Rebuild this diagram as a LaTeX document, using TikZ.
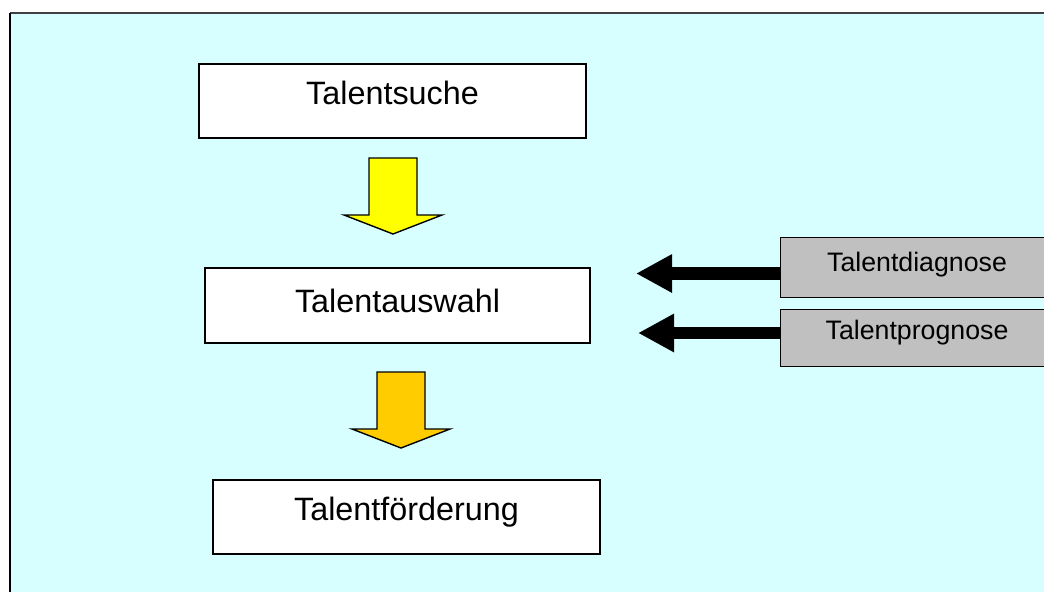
\documentclass[tikz,border=0pt]{standalone}
\usepackage{fontspec}
\setmainfont{Liberation Sans}
\usetikzlibrary{arrows.meta}

\definecolor{panelcyan}{RGB}{216,255,255}
\definecolor{sunyellow}{RGB}{255,255,0}
\definecolor{goldorange}{RGB}{255,204,0}
\definecolor{methodgray}{RGB}{192,192,192}

\begin{document}
\begin{tikzpicture}[x=0.025cm, y=-0.025cm,
  stage/.style={draw, line width=1.2pt, fill=white, minimum width=9.675cm, minimum height=1.85cm, inner sep=0pt,
    font=\fontsize{23}{27}\selectfont, text height=0.73em, text depth=0.26em},
  method/.style={draw, line width=0.7pt, fill=methodgray, minimum width=6.8cm, inner sep=0pt,
    font=\fontsize{19}{23}\selectfont, text height=0.73em},
  blockarrow/.style={draw, line width=1pt, line join=miter},
  feed/.style={line width=0.32cm, -{Triangle[length=0.9cm, width=0.9cm]}}]
\clip (0,0) rectangle (1044,592);
\fill[panelcyan] (10,13) rectangle (1044,592);
\draw[black!75, line width=1.2pt] (10,13) -- (1044,13);
\draw[line width=0.9pt] (10,13) -- (10,592);

\node[stage] (suche) at (392.5,101) {Talentsuche};
\node[stage, minimum width=9.625cm, minimum height=1.875cm, text height=1.02em, text depth=0.05em] (auswahl) at (397.5,305.5) {Talentauswahl};
\node[stage] (foerderung) at (406.5,517) {Talentförderung};
\node[method, minimum height=1.5cm, text depth=0.06em] (diagnose) at (917,267) {Talentdiagnose};
\node[method, minimum height=1.425cm, text depth=0.44em] (prognose) at (917,337.5) {Talentprognose};

% block arrows between the stages
\coordinate (down1) at (393,158);
\coordinate (down2) at (401,372);
\draw[blockarrow, fill=sunyellow] (down1) ++(-24,0) -- ++(48,0) -- ++(0,57) -- ++(25,0) -- ++(-49,19) -- ++(-49,-19) -- ++(25,0) -- cycle;
\draw[blockarrow, fill=goldorange] (down2) ++(-24,0) -- ++(48,0) -- ++(0,57) -- ++(25,0) -- ++(-49,19) -- ++(-49,-19) -- ++(25,0) -- cycle;

\coordinate (diagTip) at (636,273.5);
\coordinate (progTip) at (638,333);
\draw[feed] (diagnose.west |- diagTip) -- (diagTip);
\draw[feed, line width=0.3cm] (prognose.west |- progTip) -- (progTip);
\end{tikzpicture}
\end{document}
